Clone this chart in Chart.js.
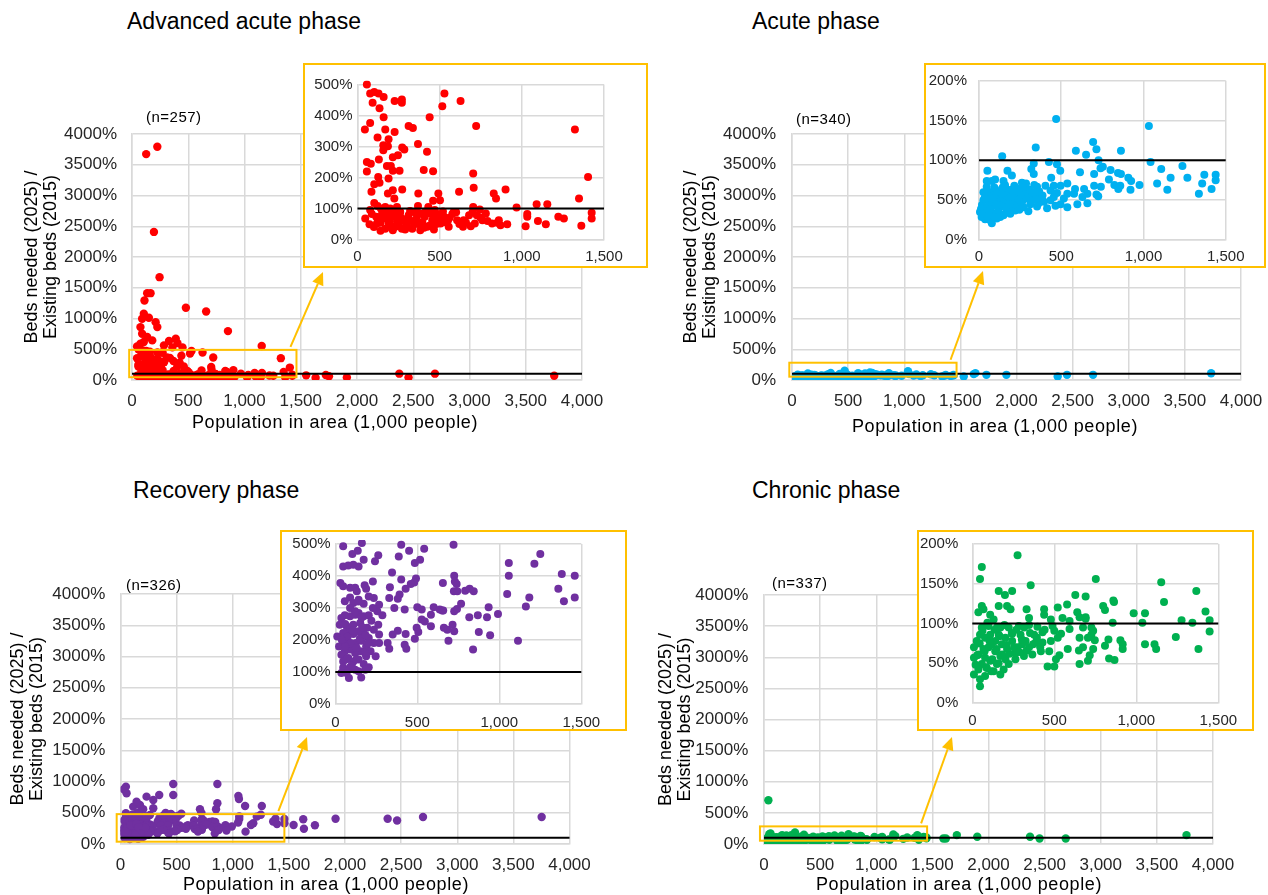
<!DOCTYPE html>
<html>
<head>
<meta charset="utf-8">
<script src="https://cdn.jsdelivr.net/npm/chart.js@4.4.0/dist/chart.umd.min.js"></script>
<style>
  body { margin: 0; width: 1268px; height: 895px; position: relative; overflow: hidden; background: #fff;
         font-family: Arial, "Liberation Sans", sans-serif; }
  canvas { position: absolute; }
  .lbl { position: absolute; white-space: nowrap; color: #000; line-height: 1; z-index: 5; }
  .inset { position: absolute; border: 2px solid #FFC000; background: #fff; box-sizing: border-box; z-index: 2; }
</style>
</head>
<body>
<script>
// ---- data ----
const phaseTitles = ['Advanced acute phase', 'Acute phase', 'Recovery phase', 'Chronic phase'];
const sampleSizes = [257, 340, 326, 337];
const phaseColors = ['#FF0000', '#00B0F0', '#7030A0', '#00B050'];
const mainXMax = 4000, mainXStep = 500, mainYMax = 4000, mainYStep = 500;
const insetXMax = 1500, insetXStep = 500;
const insetYMax = [500, 200, 500, 200];
const insetYStep = [100, 50, 100, 50];
const referenceLevel = 100;
const yTitle = ['Beds needed (2025) /', 'Existing beds (2015)'];
const xTitle = 'Population in area (1,000 people)';

// population (1,000 people), beds needed / existing beds (%)
const advancedAcute = [
  [57,500],[77,471],[102,476],[128,471],[159,460],[92,441],[134,423],[226,447],[270,452],[270,441],
  [529,471],[516,430],[627,447],[159,394],[439,394],[45,355],[77,376],[169,355],[226,347],[311,366],
  [337,360],[722,366],[1323,355],[122,329],[189,323],[157,304],[185,301],[272,297],[285,290],[368,308],
  [423,283],[157,288],[215,265],[246,272],[130,258],[57,250],[81,244],[57,219],[179,237],[203,237],
  [215,222],[256,222],[403,224],[460,220],[126,202],[189,197],[102,178],[134,183],[704,213],[1403,202],
  [85,154],[185,148],[215,159],[272,161],[370,148],[492,148],[502,127],[460,125],[618,154],[707,167],
  [829,148],[843,132],[901,161],[1348,132],[102,118],[224,132],[122,108],[169,105],[240,105],[368,108],
  [431,105],[704,105],[744,97],[968,103],[1090,114],[1155,114],[77,95],[142,100],[199,100],
  [47,68],[73,49],[140,54],[140,28],[169,35],[185,73],[209,41],[240,57],[260,73],[270,35],
  [297,52],[311,78],[333,35],[354,62],[384,46],[409,73],[425,41],[455,62],[465,32],[486,82],
  [506,52],[527,73],[551,62],[577,82],[606,62],[646,62],[642,41],[679,78],[689,43],[714,52],
  [726,78],[781,84],[791,60],[819,52],[850,54],[860,62],[911,49],[1023,43],[1033,73],[1033,82],
  [1098,60],[1146,49],[1222,73],[1256,68],[1362,44],[1425,86],[1425,68],[114,73],[87,82],[118,52],
  [159,68],[189,52],[220,73],[230,41],[179,89],[260,89],[291,65],[342,89],[362,73],[382,30],
  [443,84],[494,68],[555,41],[585,89],[748,71],[870,46],
  [100,40],[125,62],[150,85],[195,60],[205,80],[235,90],[250,45],[280,60],[300,45],[320,92],
  [330,60],[345,48],[375,85],[395,55],[415,90],[440,45],[470,70],[480,50],[520,90],[540,55],
  [560,70],[600,88],[620,50],[660,55],[700,88],[760,62],[470,95],[405,38],[290,32],[215,30],
  [126,3673],[225,3792],[195,2408],[245,1672],[135,1412],[165,1412],[111,1293],[479,1174],[659,1114],[853,795],
  [1153,552],[90,995],[105,1077],[150,1012],[210,941],[225,860],[75,860],[90,752],[135,698],[180,644],
  [105,617],[329,633],[389,671],[404,600],[284,563],[359,530],[449,530],[45,545],[75,590],
  [1723,81],[1910,43],[2376,103],[2458,43],[2693,103],[3753,70],[1548,76],[1632,38],[1751,60]
];

const acute = [
  [469,152],[1033,143],[694,123],[714,114],[589,112],[651,107],[863,112],[345,116],[141,105],[1043,98],
  [425,98],[474,95],[727,100],[333,96],[318,89],[51,87],[173,87],[494,87],[753,92],[739,90],
  [800,88],[845,84],[863,83],[1108,89],[1237,93],[1370,82],[1439,82],[614,85],[700,83],[333,83],
  [439,78],[200,81],[790,76],[908,78],[925,74],[1165,78],[1267,78],[1083,71],[1357,71],[1439,75],
  [976,69],[823,69],[859,68],[741,67],[700,68],[1145,63],[921,63],[847,64],[1414,64],[1337,58],
  [584,64],[639,64],[537,71],[496,68],[455,68],[404,68],[353,67],[261,72],[98,76],[78,74],
  [149,74],[47,67],[98,64],[159,67],[220,66],[292,64],[343,60],[435,62],[474,59],[537,58],
  [578,58],[629,54],[659,58],[714,57],[725,55],[455,54],[516,52],[435,50],[537,41],[659,46],
  [598,45],[496,45],[465,43],[414,40],[353,42],[312,45],[271,41],[231,50],[282,54],[190,58],
  [149,54],[108,50],[57,52],[27,50],[27,41],[6,35],[16,29],[37,26],[67,25],[78,21],
  [37,31],[98,33],[129,29],[169,35],[220,37],[47,41],[88,45],[139,45],[190,48],[251,45],
  [251,56],[312,56],[373,54],[118,60],[67,58],[27,60],[47,74],[169,62],[220,60],[118,39],
  [159,41],[200,41],[67,37],[108,27],[149,31],[190,33],
  [18,44],[33,52],[42,36],[55,61],[63,47],[72,39],[84,56],[93,66],[104,43],[112,57],
  [123,34],[133,51],[144,66],[152,46],[163,56],[176,41],[184,53],[196,63],[205,47],[214,56],
  [226,44],[236,61],[244,51],[256,65],[264,49],[276,57],[286,71],[296,52],[306,63],[316,48],
  [326,59],[336,69],[348,51],[366,61],[386,56],[12,39],[24,33],[58,31],[77,52],[96,29],
  [127,44],[138,58],[158,69],[182,45],[215,68],[245,38],[268,66],[300,36],[362,46],[395,48],
  [1530,58],[1619,96],[1634,112],[1732,84],[1910,84],[2367,58],[2450,84],[2682,84],[3734,110]
];

const recovery = [
  [162,503],[48,493],[402,498],[721,498],[137,479],[104,469],[173,451],[262,465],[242,446],[387,461],
  [450,479],[542,485],[517,451],[485,441],[48,430],[79,433],[110,435],[142,430],[1250,469],[1058,441],
  [1058,401],[725,401],[1381,406],[1460,401],[346,411],[402,389],[492,392],[481,380],[460,375],[429,360],
  [656,378],[729,383],[740,375],[792,354],[819,360],[844,352],[723,352],[744,352],[1048,344],[1360,360],
  [1394,321],[1460,333],[1183,333],[1162,305],[31,378],[48,368],[90,363],[121,363],[131,352],[179,371],
  [188,360],[229,383],[333,365],[392,342],[329,331],[381,329],[204,336],[235,331],[90,333],[142,326],
  [58,321],[110,316],[173,313],[267,310],[360,300],[423,295],[500,302],[527,295],[600,302],[637,295],
  [658,292],[725,290],[742,297],[767,313],[935,302],[992,281],[817,271],[869,277],[925,271],[527,264],
  [583,279],[583,243],[546,258],[652,292],[662,238],[715,248],[725,227],[683,232],[690,198],[875,225],
  [944,215],[840,170],[1114,198],[496,238],[506,225],[485,204],[429,219],[423,185],[433,173],[381,229],
  [350,217],[319,191],[329,173],[262,248],[287,277],[256,290],[229,300],[204,277],[173,274],[142,284],
  [121,279],[90,274],[58,277],[37,269],[27,248],[69,243],[110,248],[152,253],[194,238],[235,232],
  [267,217],[267,191],[235,191],[204,206],[173,219],[142,227],[110,219],[79,227],[48,222],[12,211],
  [23,180],[58,196],[90,191],[125,191],[158,198],[188,180],[215,165],[246,149],[188,149],[152,165],
  [121,159],[90,170],[58,165],[37,154],[48,133],[79,144],[110,133],[142,139],[173,125],[204,115],
  [48,113],[90,115],[121,107],[69,97],[37,97],[83,81],[158,83],[142,102],[183,107],
  [60,250],[75,210],[95,190],[105,230],[130,175],[150,205],[165,240],[185,215],[200,190],[220,260],
  [120,290],[90,300],[140,320],[160,270],[180,160],[70,140],[100,120],[130,140],[60,180],[40,200],
  [48,918],[30,876],[470,961],[863,961],[470,785],[708,555],[1110,609],[1259,609],[1214,438],[1050,770],
  [1055,720],[863,652],[851,555],[54,812],[113,598],[173,625],[232,758],[292,705],[345,785],[292,571],
  [143,678],[202,555],
  [1542,304],[1628,395],[1634,245],[1732,300],[1916,404],[2380,404],[2464,377],[2695,431],[3752,431]
];

const chronic = [
  [276,186],[58,171],[47,156],[753,156],[1152,152],[1366,141],[356,148],[161,141],[243,141],[199,136],
  [628,136],[691,134],[1169,127],[860,129],[864,127],[798,122],[809,117],[161,122],[212,122],[58,122],
  [68,118],[233,118],[331,118],[438,118],[438,111],[521,120],[578,124],[640,114],[654,108],[691,108],
  [691,106],[984,113],[1053,113],[1422,115],[1276,104],[1447,104],[1342,101],[1037,101],[856,101],[593,103],
  [550,107],[479,105],[489,97],[346,107],[346,98],[284,97],[397,96],[37,114],[109,111],[130,105],
  [58,95],[171,95],[222,95],[726,95],[726,86],[705,82],[747,79],[737,91],[675,95],[654,82],
  [593,93],[541,87],[521,82],[500,91],[479,78],[428,89],[428,76],[377,86],[325,78],[830,80],
  [903,79],[917,74],[1053,74],[1111,74],[1121,68],[1241,83],[1447,90],[1379,68],[917,68],[809,72],
  [737,68],[675,70],[650,66],[582,68],[531,60],[510,55],[500,46],[459,46],[654,49],[705,53],
  [716,60],[834,56],[867,54],[469,65],[418,65],[366,61],[315,59],[263,55],[263,63],[212,68],
  [181,74],[140,78],[109,86],[78,82],[47,86],[27,78],[10,70],[10,57],[37,61],[68,68],
  [99,70],[140,65],[171,59],[202,55],[222,49],[191,42],[171,36],[130,40],[88,44],[58,49],
  [37,42],[10,36],[47,30],[47,21],[78,34],[109,53],[150,49],[78,57],[119,74],[161,86],
  [202,82],[243,78],[274,70],[304,74],[346,70],[387,76],[294,86],[243,87],[150,95],[99,97],
  [30,60],[45,75],[62,91],[75,65],[92,101],[105,78],[122,55],[136,92],[148,68],[166,84],
  [182,61],[196,98],[210,73],[227,62],[241,88],[256,70],[269,92],[287,64],[302,80],[316,95],
  [331,66],[352,88],[371,74],[394,82],[414,70],[441,92],[20,48],[85,45],[115,40],[160,50],
  [39,702],[1598,89],[1620,89],[1718,143],[1900,116],[2370,116],[2455,89],[2688,89],[3764,143]
];

const phaseData = [advancedAcute, acute, recovery, chronic];

// ---- page geometry (pixels) ----
const zoomColor = '#FFC000';
const gridColor = '#D9D9D9';
const tickColor = '#262626';
const fontFamily = 'Arial, "Liberation Sans", sans-serif';

const panels = [
  { main: { rect: [0, 110, 640, 310], plot: [132, 134, 582, 380], padX: 10.8, padY: 15, titlePad: 22.5 },
    inset: { box: [303, 63, 345, 205], plot: [357.5, 84.5, 604, 239.5], padX: 8.8, padY: 5 },
    zoom: { x0: -25, x1: 1462, y0: 45, y1: 490, tip: [323, 272] },
    title: [127, 21], n: [146, 116], xTitle: [335, 422] },
  { main: { rect: [660, 110, 608, 310], plot: [792, 134, 1241, 380], padX: 10.8, padY: 16, titlePad: 21.5 },
    inset: { box: [924, 63, 342, 205], plot: [979, 80.7, 1225.7, 240], padX: 7.7, padY: 12 },
    zoom: { x0: -24, x1: 1466, y0: 54, y1: 281, tip: [983, 271] },
    title: [752, 21], n: [796, 118], xTitle: [995, 426] },
  { main: { rect: [0, 570, 630, 310], plot: [120.5, 594, 569.5, 844], padX: 10.8, padY: 15.2, titlePad: 8.5 },
    inset: { box: [280, 530, 347, 201], plot: [335.3, 544, 581.3, 704], padX: 10, padY: 4.6 },
    zoom: { x0: -34, x1: 1460, y0: 37, y1: 478, tip: [307, 737] },
    title: [133, 490], n: [126, 584], xTitle: [326, 884] },
  { main: { rect: [640, 570, 628, 310], plot: [764, 595, 1213, 844], padX: 11.4, padY: 15.7, titlePad: 16.5 },
    inset: { box: [917, 530, 337, 201], plot: [972.3, 544, 1218.3, 703], padX: 9, padY: 14 },
    zoom: { x0: -36, x1: 1453, y0: 53, y1: 283, tip: [952, 737] },
    title: [752, 490], n: [772, 582], xTitle: [959, 884] }
];

function addText(text, x, y, size, center, spacing) {
  const d = document.createElement('div');
  d.className = 'lbl';
  d.textContent = text;
  d.style.fontSize = size + 'px';
  d.style.top = (y - size / 2) + 'px';
  if (spacing) d.style.letterSpacing = spacing + 'px';
  if (center) {
    d.style.left = (x - 300) + 'px';
    d.style.width = '600px';
    d.style.textAlign = 'center';
  } else {
    d.style.left = x + 'px';
  }
  document.body.appendChild(d);
}

// gold box around the zoomed region plus the arrow to the inset
function zoomPlugin(zoom, origin) {
  return {
    id: 'zoomBox',
    afterDatasetsDraw(chart) {
      const { ctx, scales: { x, y } } = chart;
      const l = x.getPixelForValue(zoom.x0), r = x.getPixelForValue(zoom.x1);
      const t = y.getPixelForValue(zoom.y1), b = y.getPixelForValue(zoom.y0);
      ctx.save();
      ctx.strokeStyle = zoomColor;
      ctx.fillStyle = zoomColor;
      ctx.lineWidth = 2;
      ctx.strokeRect(l, t, r - l, b - t);
      const sx = r - 6, sy = t - 3;
      const tx = zoom.tip[0] - origin[0], ty = zoom.tip[1] - origin[1];
      const ang = Math.atan2(ty - sy, tx - sx);
      const head = 13, half = 6;
      const bx = tx - head * Math.cos(ang), by = ty - head * Math.sin(ang);
      ctx.beginPath();
      ctx.moveTo(sx, sy);
      ctx.lineTo(bx, by);
      ctx.stroke();
      ctx.beginPath();
      ctx.moveTo(tx, ty);
      ctx.lineTo(bx + half * Math.sin(ang), by - half * Math.cos(ang));
      ctx.lineTo(bx - half * Math.sin(ang), by + half * Math.cos(ang));
      ctx.closePath();
      ctx.fill();
      ctx.restore();
    }
  };
}

function makeScatter(spec) {
  const [cx, cy, cw, ch] = spec.rect;
  const [L, T, R, B] = spec.plot;
  const cv = document.createElement('canvas');
  cv.width = cw;
  cv.height = ch;
  cv.style.left = cx + 'px';
  cv.style.top = cy + 'px';
  cv.style.zIndex = spec.z;
  document.body.appendChild(cv);
  const yW = L - cx, xH = cy + ch - B;

  const yScale = {
    type: 'linear', min: 0, max: spec.yMax,
    ticks: { stepSize: spec.yStep, padding: spec.padY, color: tickColor,
             font: { size: spec.tick, family: fontFamily }, callback: v => v + '%' },
    grid: { color: gridColor, lineWidth: 1.5, drawTicks: false },
    border: { color: gridColor, width: 1.5 },
    afterFit(s) { s.width = yW; s.paddingTop = 0; s.paddingBottom = 0; s.paddingLeft = 0; s.paddingRight = 0; }
  };
  if (spec.titlePad !== undefined) {
    yScale.title = { display: true, text: yTitle, color: '#000',
                     font: { size: 18, family: fontFamily, lineHeight: 1.05 },
                     padding: { top: spec.titlePad, bottom: 0 } };
  }

  return new Chart(cv, {
    data: {
      datasets: [
        { type: 'scatter', data: spec.points.map(p => ({ x: p[0], y: p[1] })),
          backgroundColor: spec.color, borderWidth: 0, pointRadius: spec.radius, order: 1,
          clip: spec.clip },
        { type: 'line', data: [{ x: 0, y: referenceLevel }, { x: spec.xMax, y: referenceLevel }],
          borderColor: '#000', borderWidth: 2, pointRadius: 0, order: 0, clip: false }
      ]
    },
    options: {
      responsive: false, animation: false, devicePixelRatio: 1,
      layout: { padding: { left: 0, top: T - cy, right: cx + cw - R, bottom: 0 } },
      plugins: { legend: { display: false }, tooltip: { enabled: false } },
      events: [],
      scales: {
        x: {
          type: 'linear', min: 0, max: spec.xMax,
          ticks: { stepSize: spec.xStep, padding: spec.padX, color: tickColor, maxRotation: 0, autoSkip: false,
                   font: { size: spec.tick, family: fontFamily },
                   callback: v => v.toLocaleString('en-US') },
          grid: { color: gridColor, lineWidth: 1.5, drawTicks: false },
          border: { color: gridColor, width: 1.5 },
          afterFit(s) { s.height = xH; s.paddingLeft = 0; s.paddingRight = 0; s.paddingTop = 0; s.paddingBottom = 0; }
        },
        y: yScale
      }
    },
    plugins: spec.zoom ? [zoomPlugin(spec.zoom, [cx, cy])] : []
  });
}

panels.forEach((p, i) => {
  addText(phaseTitles[i], p.title[0], p.title[1], 23, false);
  addText('(n=' + sampleSizes[i] + ')', p.n[0], p.n[1], 15, false, 0.5);
  addText(xTitle, p.xTitle[0], p.xTitle[1], 18, true, 0.6);

  makeScatter({
    rect: p.main.rect, plot: p.main.plot, z: 1,
    points: phaseData[i], color: phaseColors[i], radius: 4.2,
    xMax: mainXMax, xStep: mainXStep, yMax: mainYMax, yStep: mainYStep,
    tick: 17, padX: p.main.padX, padY: p.main.padY, titlePad: p.main.titlePad,
    zoom: p.zoom
  });

  const [bx, by, bw, bh] = p.inset.box;
  const frame = document.createElement('div');
  frame.className = 'inset';
  frame.style.cssText = `left:${bx}px;top:${by}px;width:${bw}px;height:${bh}px;`;
  document.body.appendChild(frame);

  makeScatter({
    rect: [bx + 2, by + 2, bw - 4, bh - 4], plot: p.inset.plot, z: 3,
    points: phaseData[i], color: phaseColors[i], radius: 4,
    xMax: insetXMax, xStep: insetXStep, yMax: insetYMax[i], yStep: insetYStep[i],
    tick: 15, padX: p.inset.padX, padY: p.inset.padY,
    clip: { left: 5, top: 4, right: 0, bottom: 5 }
  });
});
</script>
</body>
</html>
